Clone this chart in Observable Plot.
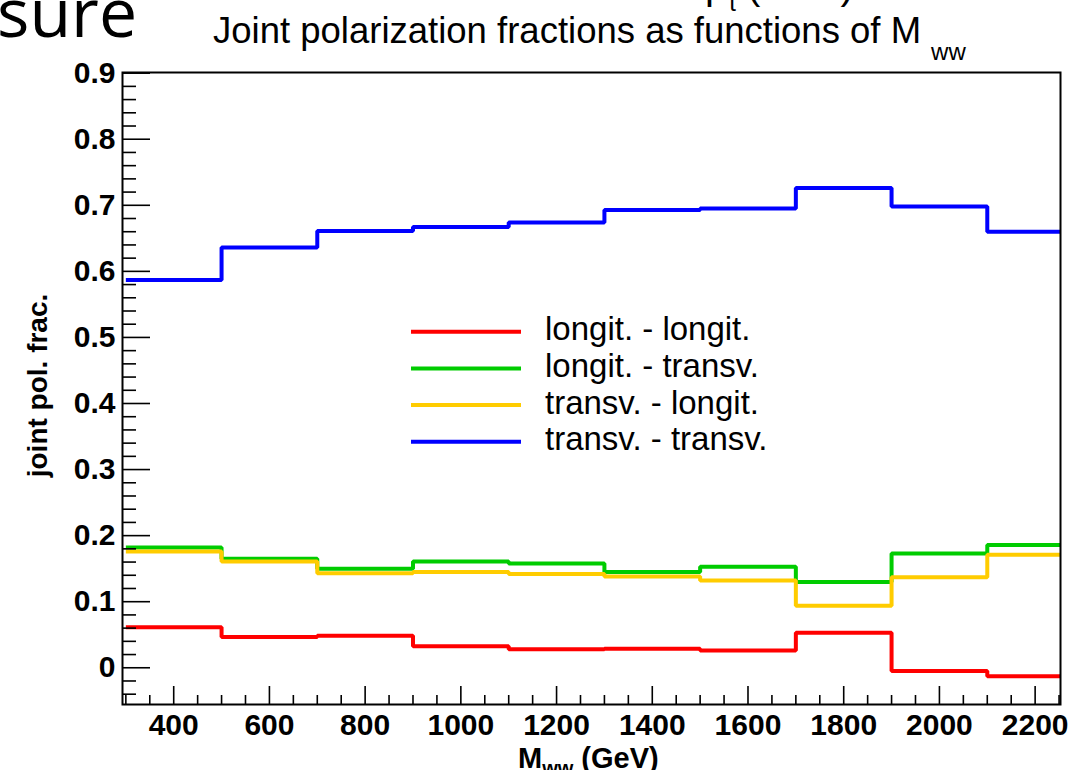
<!DOCTYPE html>
<html><head><meta charset="utf-8">
<script src="https://cdn.jsdelivr.net/npm/d3@7"></script>
<script src="https://cdn.jsdelivr.net/npm/@observablehq/plot@0.6"></script>
<style>
body{margin:0;background:#fff;}
#wrap{position:relative;width:1080px;height:770px;overflow:hidden;font-family:"Liberation Sans",Arial,sans-serif;}
#wrap > svg{position:absolute;left:0;top:0;}
#wrap g[aria-label$="tick label"] text{font-weight:bold;}
</style></head><body><div id="wrap"></div>
<script>
// ---- data ----
const binEdges = [300,500,700,900,1100,1300,1500,1700,1900,2100,2300];
const seriesNames = ["longit. - longit.","longit. - transv.","transv. - longit.","transv. - transv."];
const seriesColors = ["#ff0000","#00cc00","#ffcc00","#0000ff"];
const longLong   = [0.0615,0.0464,0.0485,0.0327,0.0282,0.0288,0.0262,0.053,-0.005,-0.0127];
const longTrans  = [0.182,0.165,0.150,0.161,0.158,0.145,0.153,0.130,0.173,0.186];
const transLong  = [0.176,0.161,0.143,0.145,0.142,0.138,0.132,0.094,0.137,0.171];
const transTrans = [0.587,0.636,0.661,0.667,0.674,0.693,0.695,0.726,0.698,0.660];
const xMajorTicks = [400,600,800,1000,1200,1400,1600,1800,2000,2200];
const xTickLabels = ["400","600","800","1000","1200","1400","1600","1800","2000","2200"];
const yMajorTicks = [0,0.1,0.2,0.3,0.4,0.5,0.6,0.7,0.8,0.9];
const yTickLabels = ["0","0.1","0.2","0.3","0.4","0.5","0.6","0.7","0.8","0.9"];
const titleText = "Joint polarization fractions as functions of M";
const titleSub = "ww";
const yLabel = "joint pol. frac.";
const xLabelMain = "M", xLabelSub = "ww", xLabelUnit = " (GeV)";

// ---- build table ----
const seriesValues = [longLong,longTrans,transLong,transTrans];
const rows = [];
seriesNames.forEach((name,s)=>{
  binEdges.forEach((e,i)=>{
    rows.push({x:e, y:seriesValues[s][Math.min(i,seriesValues[s].length-1)], series:name});
  });
});
const xMinorTicks = d3.range(300,2251,50).filter(v=>!xMajorTicks.includes(v));
const yMinorTicks = d3.range(-4,91,2).map(v=>v/100).filter(v=>Math.round(v*100)%10!==0);

const font = "Liberation Sans, Arial, Helvetica, sans-serif";
const chart = Plot.plot({
  width:1080, height:770,
  marginLeft:122, marginRight:20, marginTop:72, marginBottom:66,
  x:{domain:[293,2253]},
  y:{domain:[-0.0556,0.901]},
  color:{domain:seriesNames, range:seriesColors},
  style:{fontFamily:font, background:"transparent", color:"black"},
  marks:[
    Plot.line(rows,{x:"x",y:"y",z:"series",stroke:"series",strokeWidth:4,curve:"step-after",clip:true,strokeLinejoin:"miter",strokeLinecap:"butt"}),
    Plot.axisX({ticks:xMinorTicks, tickSize:-9, tickFormat:()=>"", strokeWidth:1.6, label:null}),
    Plot.axisX({ticks:xMajorTicks, tickSize:-18, tickFormat:()=>"", strokeWidth:1.6, label:null}),
    Plot.axisX({ticks:xMajorTicks, tickSize:0, tickPadding:9, fontSize:30, fontWeight:"bold", label:null,
      tickFormat:(d)=>xTickLabels[xMajorTicks.indexOf(d)]}),
    Plot.axisY({ticks:yMinorTicks, tickSize:-14, tickFormat:()=>"", strokeWidth:1.6, label:null}),
    Plot.axisY({ticks:yMajorTicks, tickSize:-28, tickFormat:()=>"", strokeWidth:1.6, label:null}),
    Plot.axisY({ticks:yMajorTicks, tickSize:0, tickPadding:7, fontSize:30, fontWeight:"bold", label:null,
      tickFormat:(d)=>yTickLabels[yMajorTicks.indexOf(d)]}),
    Plot.frame({stroke:"black", strokeWidth:2})
  ]
});
const wrap = document.getElementById("wrap");
wrap.appendChild(chart);

// ---- overlay texts and legend ----
const ov = d3.select(wrap).append("svg").attr("width",1080).attr("height",770)
  .style("pointer-events","none").attr("font-family",font);

ov.append("text").attr("x",-3).attr("y",37).attr("font-family","Open Sans, sans-serif")
  .attr("font-size",68).text("sure");

const frag = ov.append("text").attr("x",705).attr("y",-1).attr("font-size",40);
frag.append("tspan").text("p");
frag.append("tspan").attr("font-size",24).attr("dx",2).attr("dy",12).text("t");
frag.append("tspan").attr("dy",-12).text(" (GeV)");

const t = ov.append("text").attr("x",213).attr("y",43.3).attr("font-size",36.5);
t.append("tspan").text(titleText);
t.append("tspan").attr("font-size",24).attr("dx",10).attr("dy",16.5).text(titleSub);

ov.append("text").attr("transform","translate(47,385.5) rotate(-90)").attr("text-anchor","middle")
  .attr("font-size",28).attr("font-weight","bold").text(yLabel);

const xl = ov.append("text").attr("x",518).attr("y",768).attr("font-size",29).attr("font-weight","bold");
xl.append("tspan").text(xLabelMain);
xl.append("tspan").attr("font-size",20).attr("dy",7).text(xLabelSub);
xl.append("tspan").attr("dy",-7).text(xLabelUnit);

const legY0 = 331.7, legDy = 36.7;
seriesNames.forEach((name,i)=>{
  const y = legY0 + i*legDy;
  ov.append("line").attr("x1",411).attr("x2",521).attr("y1",y).attr("y2",y)
    .attr("stroke",seriesColors[i]).attr("stroke-width",4);
  ov.append("text").attr("x",545).attr("y",y+8.5).attr("font-size",33).text(name);
});
</script></body></html>
